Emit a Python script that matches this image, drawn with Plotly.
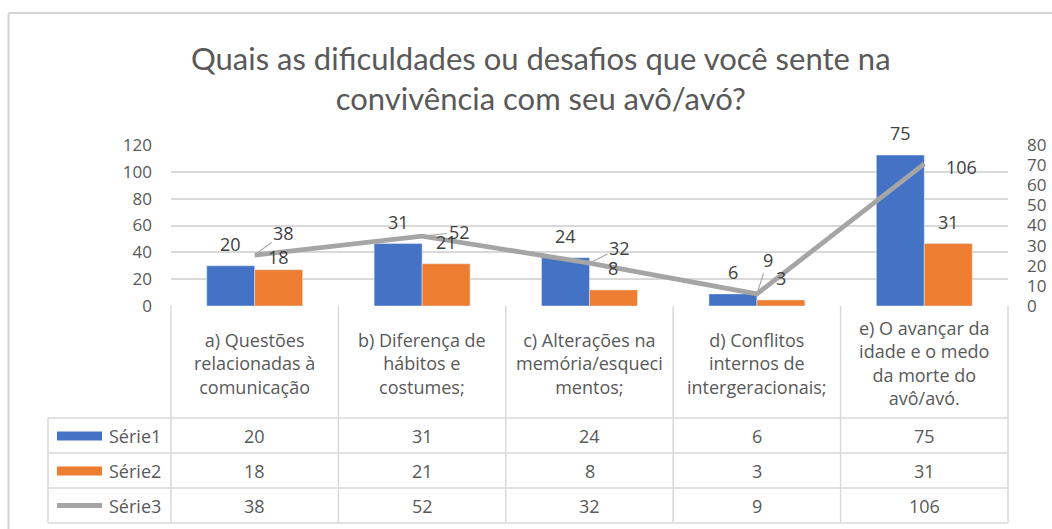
import plotly.graph_objects as go

# ---------------- data ----------------
categories = [
    "a) Questões<br>relacionadas à<br>comunicação",
    "b) Diferença de<br>hábitos e<br>costumes;",
    "c) Alterações na<br>memória/esqueci<br>mentos;",
    "d) Conflitos<br>internos de<br>intergeracionais;",
    "e) O avançar da<br>idade e o medo<br>da morte do<br>avô/avó.",
]
serie1 = [20, 31, 24, 6, 75]
serie2 = [18, 21, 8, 3, 31]
serie3 = [38, 52, 32, 9, 106]
series_names = ["Série1", "Série2", "Série3"]
left_ticks = [0, 20, 40, 60, 80, 100, 120]
right_ticks = [0, 10, 20, 30, 40, 50, 60, 70, 80]
title_text = "Quais as dificuldades ou desafios que você sente na<br>convivência com seu avô/avó?"

# ---------------- style ----------------
W, H = 1052, 529
BLUE, ORANGE, GRAY = "#4472C4", "#ED7D31", "#A5A5A5"
TXT = "#595959"
LBL = "#404040"
LINE = "#D9D9D9"
FONT = "Open Sans, Noto Sans, sans-serif"

PX0, PX1 = 171, 1008          # plot area (pixels)
PY_TOP, PY_BOT = 145, 306
BARGAP = 0.427
cw = (PX1 - PX0) / len(categories)
bar_off = cw * (1 - BARGAP) / 4

def px(x):
    return x / W

def py(y):
    return 1 - y / H

fig = go.Figure()
fig.add_trace(go.Bar(x=categories, y=serie1, name=series_names[0], marker_color=BLUE,
                     yaxis="y", hoverinfo="skip"))
fig.add_trace(go.Bar(x=categories, y=serie2, name=series_names[1], marker_color=ORANGE,
                     yaxis="y", hoverinfo="skip"))
fig.add_trace(go.Scatter(x=categories, y=serie3, name=series_names[2], mode="lines",
                         line=dict(color=GRAY, width=4.8), yaxis="y2", hoverinfo="skip"))

ann = []
# title
ann.append(dict(x=px(541), y=py(78), xref="paper", yref="paper", text=title_text,
                showarrow=False, xanchor="center", yanchor="middle",
                font=dict(family="Lato, Open Sans, sans-serif", size=31, color=TXT)))

# bar data labels
s2_shift = [13, 22, 22, 22, 22]
for i, c in enumerate(categories):
    ann.append(dict(x=c, y=serie1[i], xref="x", yref="y", text=str(serie1[i]),
                    showarrow=False, xshift=-bar_off, yshift=22,
                    font=dict(size=18, color=LBL, family=FONT)))
    ann.append(dict(x=c, y=serie2[i], xref="x", yref="y", text=str(serie2[i]),
                    showarrow=False, xshift=bar_off, yshift=s2_shift[i],
                    font=dict(size=18, color=LBL, family=FONT)))

# line data labels with leader lines
s3_offsets = [(29, -22), (37, -4), (30, -15), (11, -34), (37, 3)]
s3_leader = [True, True, True, True, False]
for i, c in enumerate(categories):
    dx, dy = s3_offsets[i]
    if s3_leader[i]:
        ann.append(dict(x=c, y=serie3[i], xref="x", yref="y2", text=str(serie3[i]),
                        showarrow=True, arrowhead=0, arrowwidth=1.2, arrowcolor="#A6A6A6",
                        ax=dx, ay=dy, standoff=3,
                        font=dict(size=18, color=LBL, family=FONT)))
    else:
        ann.append(dict(x=c, y=serie3[i], xref="x", yref="y2", text=str(serie3[i]),
                        showarrow=False, xshift=dx, yshift=-dy,
                        font=dict(size=18, color=LBL, family=FONT)))

# ---------------- data table ----------------
XL = 48
Y_HEAD_BOT = 418
ROW_H = 35
rows_bot = [Y_HEAD_BOT + ROW_H * (k + 1) for k in range(3)]
shapes = []
for k in range(len(categories) + 1):
    xx = PX0 + k * cw
    shapes.append(dict(type="line", xref="paper", yref="paper", x0=px(xx), x1=px(xx),
                       y0=py(PY_BOT), y1=py(rows_bot[-1]), line=dict(color=LINE, width=1.5)))
shapes.append(dict(type="line", xref="paper", yref="paper", x0=px(XL), x1=px(XL),
                   y0=py(Y_HEAD_BOT), y1=py(rows_bot[-1]), line=dict(color=LINE, width=1.5)))
for yy in [Y_HEAD_BOT] + rows_bot:
    shapes.append(dict(type="line", xref="paper", yref="paper", x0=px(XL), x1=px(PX1),
                       y0=py(yy), y1=py(yy), line=dict(color=LINE, width=1.5)))

# outer chart frame (top & left visible)
shapes.append(dict(type="line", xref="paper", yref="paper", x0=px(8.5), x1=1,
                   y0=py(13), y1=py(13), line=dict(color="#D4D4D4", width=2)))
shapes.append(dict(type="line", xref="paper", yref="paper", x0=px(8.5), x1=px(8.5),
                   y0=py(13), y1=0, line=dict(color="#D4D4D4", width=2)))

# header cells
for c in categories:
    ann.append(dict(x=c, xref="x", y=py((PY_BOT + Y_HEAD_BOT) / 2 + 1), yref="paper",
                    text=c, showarrow=False, yanchor="middle",
                    font=dict(size=18, color=TXT, family=FONT)))

# value rows + legend keys
all_series = [serie1, serie2, serie3]
key_colors = [BLUE, ORANGE, GRAY]
for r, vals in enumerate(all_series):
    ytop = Y_HEAD_BOT + r * ROW_H
    yc = ytop + ROW_H / 2
    for i, c in enumerate(categories):
        ann.append(dict(x=c, xref="x", y=py(yc), yref="paper", text=str(vals[i]),
                        showarrow=False, yanchor="middle",
                        font=dict(size=18, color=TXT, family=FONT)))
    ann.append(dict(x=px(163), xref="paper", y=py(yc), yref="paper", text=series_names[r],
                    showarrow=False, xanchor="right", yanchor="middle",
                    font=dict(size=18, color=TXT, family=FONT)))
    if r < 2:
        shapes.append(dict(type="rect", xref="paper", yref="paper", x0=px(57), x1=px(102),
                           y0=py(yc + 5), y1=py(yc - 4), fillcolor=key_colors[r],
                           line=dict(width=0)))
    else:
        shapes.append(dict(type="line", xref="paper", yref="paper", x0=px(57), x1=px(102),
                           y0=py(yc), y1=py(yc), line=dict(color=key_colors[r], width=5)))

fig.update_layout(
    width=W, height=H, autosize=False,
    margin=dict(l=0, r=0, t=0, b=0, pad=0, autoexpand=False),
    paper_bgcolor="white", plot_bgcolor="rgba(0,0,0,0)",
    barmode="group", bargap=BARGAP, bargroupgap=0,
    showlegend=False,
    font=dict(family=FONT, color=TXT),
    xaxis=dict(domain=[px(PX0), px(PX1)], type="category", range=[-0.5, len(categories) - 0.5],
               showticklabels=False, showgrid=False, zeroline=False, showline=False,
               automargin=False),
    yaxis=dict(domain=[py(PY_BOT), py(PY_TOP)], range=[0, 80], side="right",
               tickvals=right_ticks, showgrid=False, zeroline=False, showline=False,
               automargin=False,
               ticklabelstandoff=18, tickfont=dict(size=17, color=TXT, family=FONT)),
    yaxis2=dict(range=[0, 120], overlaying="y", side="left", tickvals=left_ticks,
                showgrid=True, gridcolor=LINE, gridwidth=1.5, zeroline=False, showline=False,
                automargin=False,
                ticklabelstandoff=18, tickfont=dict(size=17, color=TXT, family=FONT)),
    annotations=ann,
    shapes=shapes,
)

fig.write_html("out.html", config={"displayModeBar": False},
               post_script="document.body.style.margin='0';document.body.style.overflow='hidden';")
